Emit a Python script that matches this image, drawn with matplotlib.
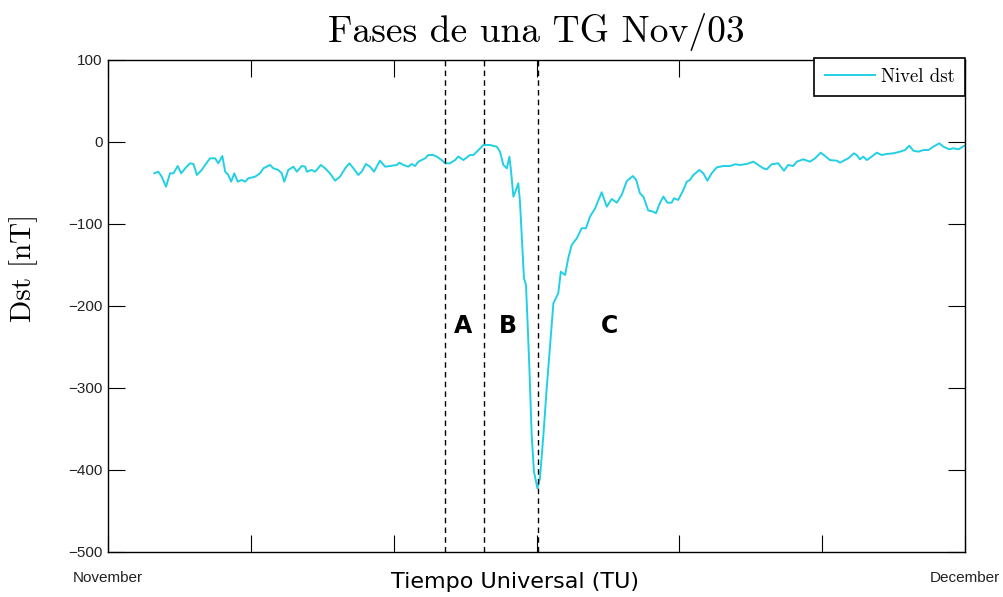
import matplotlib
matplotlib.use("Agg")
import matplotlib.pyplot as plt
import numpy as np

# dias desde el 1 de noviembre y Dst [nT]
dias = [1.62, 1.76, 1.88, 2.03, 2.17, 2.29, 2.44, 2.56, 2.70, 2.87, 2.99, 3.11, 3.28, 3.40,
        3.57, 3.75, 3.86, 4.00, 4.10, 4.21, 4.31, 4.42, 4.54, 4.68, 4.80, 4.91, 5.15, 5.32,
        5.44, 5.67, 5.79, 5.96, 6.08, 6.17, 6.31, 6.49, 6.61, 6.78, 6.90, 6.96, 7.13, 7.25,
        7.45, 7.60, 7.77, 7.95, 8.12, 8.30, 8.45, 8.59, 8.76, 8.88, 9.03, 9.17, 9.31, 9.52,
        9.70, 9.87, 10.11, 10.20, 10.34, 10.51, 10.63, 10.75, 10.86, 10.98, 11.10, 11.21,
        11.39, 11.51, 11.68, 11.80, 11.97, 12.15, 12.26, 12.44, 12.67, 12.79, 12.91, 13.14,
        13.37, 13.61, 13.72, 13.84, 13.96, 14.05, 14.11, 14.19, 14.28, 14.36, 14.42, 14.48,
        14.56, 14.63, 14.68, 14.75, 14.83, 14.91, 15.03, 15.12, 15.24, 15.36, 15.47, 15.59,
        15.76, 15.85, 16.00, 16.11, 16.23, 16.41, 16.58, 16.73, 16.87, 17.05, 17.28, 17.46,
        17.63, 17.81, 17.98, 18.16, 18.37, 18.49, 18.62, 18.74, 18.91, 19.09, 19.18, 19.32,
        19.44, 19.58, 19.73, 19.81, 19.96, 20.14, 20.26, 20.37, 20.49, 20.70, 20.84, 20.98,
        21.13, 21.31, 21.54, 21.77, 21.95, 22.12, 22.36, 22.59, 22.76, 22.94, 23.06, 23.23,
        23.46, 23.66, 23.81, 23.98, 24.11, 24.34, 24.57, 24.75, 24.95, 25.10, 25.27, 25.51,
        25.62, 25.80, 25.91, 26.11, 26.21, 26.32, 26.44, 26.56, 26.73, 26.91, 27.08, 27.26,
        27.49, 27.72, 27.90, 28.05, 28.19, 28.37, 28.54, 28.72, 28.89, 29.10, 29.24, 29.45,
        29.59, 29.77, 29.92, 30.00]
dst = [-38.2, -36.2, -42.3, -54.5, -38.2, -38.2, -29.3, -38.2, -32.1, -26.0, -26.8, -40.2,
       -34.1, -28.0, -19.9, -19.9, -26.0, -17.1, -36.2, -40.2, -48.4, -38.2, -48.4, -46.3,
       -48.4, -44.3, -42.3, -38.2, -32.1, -28.0, -32.1, -34.1, -38.2, -48.4, -34.1, -30.1,
       -36.2, -29.3, -30.1, -36.2, -34.1, -36.2, -28.0, -32.1, -38.2, -47.2, -42.3, -32.1,
       -26.0, -32.1, -40.2, -36.2, -26.8, -30.1, -36.2, -22.8, -30.1, -29.3, -28.0, -25.2,
       -28.0, -30.1, -26.8, -29.3, -24.0, -22.0, -19.9, -15.9, -15.9, -17.9, -22.0, -26.0,
       -26.0, -22.0, -17.7, -22.0, -15.9, -15.9, -11.8, -3.7, -3.7, -5.7, -11.8, -28.0,
       -32.1, -17.9, -36.2, -66.7, -58.5, -50.4, -72.8, -113.4, -166.2, -174.4, -215.0,
       -276.0, -357.3, -402.1, -422.3, -410.1, -357.3, -298.4, -249.6, -196.7, -184.5,
       -158.2, -162.2, -141.8, -125.6, -117.4, -105.2, -105.2, -91.1, -80.9, -61.3, -78.9,
       -69.5, -74.0, -64.6, -47.6, -41.5, -46.3, -62.6, -66.7, -83.5, -85.0, -86.9, -74.4,
       -66.5, -74.0, -74.0, -68.7, -70.7, -58.5, -48.4, -46.3, -40.2, -34.1, -38.2, -47.2,
       -38.2, -30.9, -29.3, -29.3, -27.2, -28.0, -26.8, -24.0, -28.0, -32.1, -33.3, -27.2,
       -26.0, -35.0, -28.0, -29.3, -24.0, -21.1, -24.0, -19.9, -13.0, -17.1, -22.0, -22.8,
       -25.2, -22.0, -19.9, -13.8, -15.9, -21.1, -17.9, -22.0, -17.9, -13.0, -15.9, -14.6,
       -13.8, -11.8, -9.8, -4.5, -10.6, -11.8, -9.8, -9.8, -5.7, -1.6, -5.7, -8.9, -7.7,
       -8.9, -5.7, -4.3]

# limites de fases (A: inicio, B: principal, C: recuperacion)
fases_x = [11.80, 13.16, 15.05]
fases_txt = ["A", "B", "C"]
fases_pos = [12.43, 14.0, 17.57]
fases_y = -224

xticks = [0, 5, 10, 15, 20, 25, 30]
xticklabels = ["November", "", "", "", "", "", "December"]
yticks = [100, 0, -100, -200, -300, -400, -500]

fig = plt.figure(figsize=(10.04, 5.97), dpi=100)
ax = fig.add_axes([0.1076, 0.0754, 0.8536, 0.8241])

ax.plot(dias, dst, color="#22d0e4", linewidth=1.4, label="Nivel dst")
for x in fases_x:
    ax.axvline(x, color="black", linestyle=(0, (4, 3)), linewidth=1.0)
for x, t in zip(fases_pos, fases_txt):
    ax.text(x, fases_y, t, fontsize=17, fontweight="bold", ha="center", va="center",
            family="DejaVu Sans")

ax.set_xlim(0, 30)
ax.set_ylim(-500, 100)
ax.set_xticks(xticks)
ax.set_xticklabels(xticklabels, fontsize=11, family="Liberation Sans", color="#222222")
ax.set_yticks(yticks)
ax.set_yticklabels([f"{v}".replace("-", "\u2212") for v in yticks], fontsize=11,
                   family="Liberation Sans", color="#222222")
ax.tick_params(direction="in", length=12, width=0.8, top=True, right=True, pad=4)
ax.tick_params(axis="x", pad=14)
for s in ax.spines.values():
    s.set_linewidth(1.0)

ax.set_title("Fases de una TG Nov/03", fontsize=27, family="cmr10", pad=13)
fig.text(24 / 1004, 1 - 268 / 597, "Dst [nT]", fontsize=21, family="cmr10",
         rotation=90, ha="center", va="center")
fig.text(0.513, 0.025, "Tiempo Universal (TU)", fontsize=16, ha="center", va="center",
         family="DejaVu Sans")

leg = ax.legend(loc="upper right", prop={"family": "cmr10", "size": 13.5},
                fancybox=False, framealpha=1, edgecolor="black", borderaxespad=0.0,
                handlelength=2.7, handletextpad=0.3, borderpad=0.55,
                bbox_to_anchor=(1.0, 1.005))
leg.get_frame().set_linewidth(1.2)

fig.savefig("out.png", dpi=100, facecolor="white")
